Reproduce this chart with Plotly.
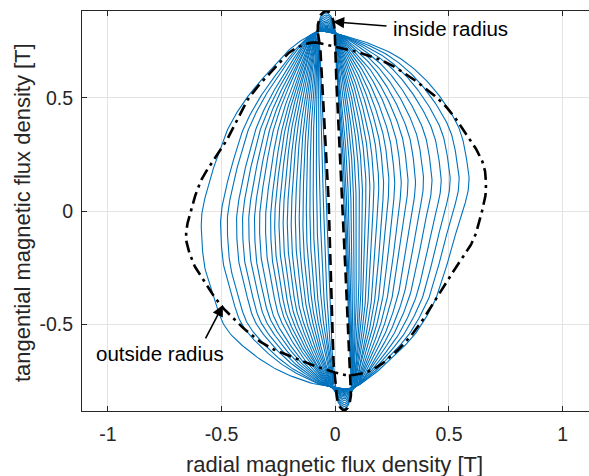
import numpy as np
import plotly.graph_objects as go

# ---------------- axes ----------------
x_range = [-1.114, 1.116]
y_range = [-0.8826, 0.8826]
x_ticks = [-1, -0.5, 0, 0.5, 1]
x_tick_labels = ['-1', '-0.5', '0', '0.5', '1']
y_ticks = [-0.5, 0, 0.5]
y_tick_labels = ['-0.5', '0', '0.5']
x_title = 'radial magnetic flux density [T]'
y_title = 'tangential magnetic flux density [T]'

# ---------------- outside radius locus (dash-dot) ----------------
outside_x = [-0.104, -0.038, 0.094, 0.259, 0.458, 0.574, 0.648, 0.663, 0.648, 0.607,
             0.532, 0.441, 0.342, 0.243, 0.160, 0.077, 0.011, -0.121, -0.319, -0.485,
             -0.571, -0.617, -0.650, -0.656, -0.642, -0.589, -0.485, -0.386, -0.261, -0.187]
outside_y = [0.743, 0.733, 0.703, 0.637, 0.490, 0.343, 0.215, 0.105, 0.010, -0.128,
             -0.246, -0.393, -0.540, -0.643, -0.702, -0.724, -0.716, -0.672, -0.584, -0.437,
             -0.319, -0.246, -0.157, -0.098, -0.025, 0.137, 0.299, 0.490, 0.637, 0.711]

# ---------------- inside radius locus (dashed) ----------------
inside_x = [-0.077, -0.075, -0.066, -0.052, -0.038, -0.024, -0.012, -0.004, -0.002, 0.001,
            0.016, 0.026, 0.032, 0.048, 0.064, 0.069, 0.066, 0.057, 0.042, 0.027,
            0.014, 0.007, 0.005, -0.008, -0.017, -0.024, -0.027, -0.044, -0.061]
inside_y = [0.790, 0.830, 0.862, 0.877, 0.882, 0.874, 0.852, 0.815, 0.780, 0.666,
            0.330, 0.130, 0.000, -0.330, -0.658, -0.790, -0.835, -0.865, -0.880, -0.873,
            -0.853, -0.825, -0.790, -0.660, -0.330, -0.100, 0.000, 0.330, 0.666]
inside_anchor = [0, 8, 11, 15, 22, 25]   # top-left, top-right, right, bottom-right, bottom-left, left

# ---------------- outermost blue locus ----------------
outer_x = [-0.088, -0.045, 0.011, 0.144, 0.276, 0.392, 0.491, 0.560, 0.592, 0.598,
           0.588, 0.566, 0.541, 0.519, 0.495, 0.447, 0.359, 0.259, 0.177, 0.094,
           0.040, -0.024, -0.104, -0.253, -0.386, -0.485, -0.538, -0.575, -0.589, -0.585,
           -0.552, -0.522, -0.468, -0.386, -0.286, -0.187]
outer_y = [0.787, 0.792, 0.780, 0.743, 0.684, 0.593, 0.475, 0.350, 0.200, 0.130,
           0.060, -0.010, -0.090, -0.172, -0.250, -0.393, -0.540, -0.643, -0.716, -0.772,
           -0.785, -0.772, -0.760, -0.702, -0.613, -0.511, -0.370, -0.246, -0.100, 0.004,
           0.137, 0.230, 0.372, 0.504, 0.622, 0.725]
outer_anchor = [0, 2, 9, 19, 21, 28]

# ---------------- where each blue locus crosses y = 0 ----------------
blue_left_x0 = [-0.585, -0.501, -0.472, -0.432, -0.406, -0.379, -0.354, -0.332, -0.306, -0.284,
                -0.266, -0.247, -0.229, -0.211, -0.194, -0.176, -0.159, -0.143, -0.128, -0.112,
                -0.097, -0.081, -0.066, -0.051, -0.036]
blue_right_x0 = [0.560, 0.519, 0.482, 0.445, 0.407, 0.372, 0.339, 0.308, 0.280, 0.253,
                 0.229, 0.207, 0.187, 0.167, 0.150, 0.134, 0.119, 0.106, 0.092, 0.081,
                 0.070, 0.059, 0.051, 0.045, 0.040]

BLUE = '#0072BD'
INK = '#262626'


def smooth_closed(xs, ys, k=16):
    """periodic Catmull-Rom smoothing of a closed polyline (for drawing)"""
    P = np.column_stack([xs, ys]).astype(float)
    n = len(P)
    out = []
    t = np.linspace(0, 1, k, endpoint=False)[:, None]
    for i in range(n):
        p0, p1, p2, p3 = P[(i - 1) % n], P[i], P[(i + 1) % n], P[(i + 2) % n]
        seg = 0.5 * ((2 * p1) + (-p0 + p2) * t + (2 * p0 - 5 * p1 + 4 * p2 - p3) * t ** 2
                     + (-p0 + 3 * p1 - 3 * p2 + p3) * t ** 3)
        out.append(seg)
    return np.vstack(out)


def segments(xs, ys, anchors, counts, k=16):
    D = smooth_closed(xs, ys, k)
    N = len(D)
    segs = []
    for j in range(len(anchors)):
        a = anchors[j] * k
        b = anchors[(j + 1) % len(anchors)] * k
        if b <= a:
            b += N
        idx = np.arange(a, b + 1) % N
        S = D[idx]
        d = np.concatenate([[0], np.cumsum(np.hypot(*np.diff(S, axis=0).T))])
        u = np.linspace(0, d[-1], counts[j], endpoint=False)
        segs.append(np.column_stack([np.interp(u, d, S[:, 0]), np.interp(u, d, S[:, 1])]))
    return segs


counts = [40, 90, 90, 40, 90, 90]
I_seg = segments(inside_x, inside_y, inside_anchor, counts)
O_seg = segments(outer_x, outer_y, outer_anchor, counts)


def crossing(segs, side):
    P = np.vstack(segs)
    P = np.vstack([P, P[:1]])
    xs = []
    for i in range(len(P) - 1):
        y1, y2 = P[i, 1], P[i + 1, 1]
        if y1 * y2 <= 0 and y1 != y2:
            xs.append(P[i, 0] + (0 - y1) / (y2 - y1) * (P[i + 1, 0] - P[i, 0]))
    return min(xs) if side == 'L' else max(xs)


iL0, iR0 = crossing(I_seg, 'L'), crossing(I_seg, 'R')
oL0, oR0 = crossing(O_seg, 'L'), crossing(O_seg, 'R')


def capg(w):
    return 1 - (1 - w) ** 6


def blend(wL, wR):
    pts = []
    for j in range(6):
        n = counts[j]
        u = np.arange(n) / n
        if j == 0:      # top cap, from left to right
            w = wL + (wR - wL) * u
            g = capg(w)
        elif j == 3:    # bottom cap, from right to left
            w = wR + (wL - wR) * u
            g = capg(w)
        else:
            w = np.full(n, wR if j in (1, 2) else wL)
            if j in (1, 4):   # starts at a cap
                h = np.exp(-(u / 0.05) ** 2)
            else:             # ends at a cap
                h = np.exp(-((1 - u) / 0.05) ** 2)
            g = w + (capg(w) - w) * h
        pts.append(I_seg[j] + g[:, None] * (O_seg[j] - I_seg[j]))
    P = np.vstack(pts)
    return np.vstack([P, P[:1]])


fig = go.Figure()

for xl, xr in zip(blue_left_x0, blue_right_x0):
    wL = (xl - iL0) / (oL0 - iL0)
    wR = (xr - iR0) / (oR0 - iR0)
    P = blend(wL, wR)
    fig.add_trace(go.Scatter(x=P[:, 0], y=P[:, 1], mode='lines',
                             line=dict(color=BLUE, width=1.1), hoverinfo='skip', showlegend=False))

Din = smooth_closed(inside_x, inside_y)
Din = np.vstack([Din, Din[:1]])
fig.add_trace(go.Scatter(x=Din[:, 0], y=Din[:, 1], mode='lines',
                         line=dict(color='black', width=2.6, dash='11px,6px'),
                         hoverinfo='skip', showlegend=False))

Dout = smooth_closed(outside_x, outside_y)
Dout = np.vstack([Dout, Dout[:1]])
fig.add_trace(go.Scatter(x=Dout[:, 0], y=Dout[:, 1], mode='lines',
                         line=dict(color='black', width=2.6, dash='12px,5px,3px,5px'),
                         hoverinfo='skip', showlegend=False))

font_main = 'Liberation Sans, Arial, Helvetica, sans-serif'

annotations = [
    dict(x=-0.010, y=0.835, ax=0.232, ay=0.816, xref='x', yref='y', axref='x', ayref='y',
         text='', showarrow=True, arrowhead=2, arrowsize=1.4, arrowwidth=1.6, arrowcolor='black'),
    dict(x=0.247, y=0.806, xref='x', yref='y', text='inside radius', showarrow=False,
         xanchor='left', yanchor='middle', font=dict(size=20.5, color='black', family=font_main)),
    dict(x=-0.494, y=-0.415, ax=-0.574, ay=-0.569, xref='x', yref='y', axref='x', ayref='y',
         text='', showarrow=True, arrowhead=2, arrowsize=1.4, arrowwidth=1.6, arrowcolor='black'),
    dict(x=-1.062, y=-0.627, xref='x', yref='y', text='outside radius', showarrow=False,
         xanchor='left', yanchor='middle', font=dict(size=20.5, color='black', family=font_main)),
    dict(x=0.499, y=-0.1325, xref='paper', yref='paper', text=x_title, showarrow=False,
         xanchor='center', yanchor='middle', font=dict(size=22, color=INK, family=font_main)),
    dict(x=-0.1174, y=0.496, xref='paper', yref='paper', text=y_title, showarrow=False,
         textangle=-90, xanchor='center', yanchor='middle',
         font=dict(size=22, color=INK, family=font_main)),
]

fig.update_layout(
    width=589, height=476,
    margin=dict(l=82, r=0, t=11, b=65, autoexpand=False),
    paper_bgcolor='white', plot_bgcolor='white',
    font=dict(family=font_main, size=19.5, color=INK),
    annotations=annotations,
    xaxis=dict(range=x_range, tickvals=x_ticks, ticktext=x_tick_labels, automargin=False,
               showgrid=True, gridcolor='#e3e3e3', gridwidth=1, zeroline=False,
               showline=True, linecolor=INK, linewidth=1, mirror='ticks',
               ticks='inside', ticklen=5, tickcolor=INK, ticklabelstandoff=6),
    yaxis=dict(range=y_range, tickvals=y_ticks, ticktext=y_tick_labels, automargin=False,
               showgrid=True, gridcolor='#e3e3e3', gridwidth=1, zeroline=False,
               showline=True, linecolor=INK, linewidth=1, mirror=False,
               ticks='inside', ticklen=5, tickcolor=INK, ticklabelstandoff=4),
)

fig.write_html('out.html', config={'displayModeBar': False},
               post_script="document.body.style.margin='0';document.body.style.overflow='hidden';")
